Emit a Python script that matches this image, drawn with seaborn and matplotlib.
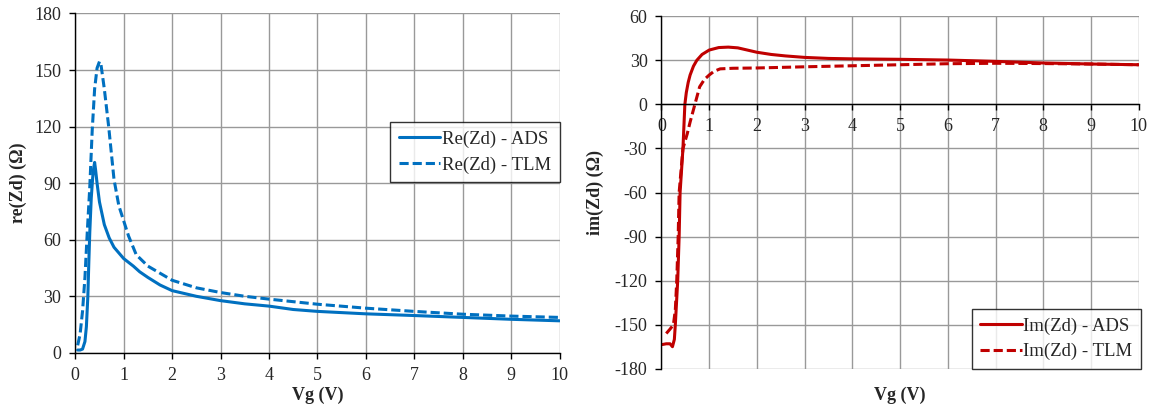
import numpy as np
import pandas as pd
import seaborn as sns
import matplotlib
matplotlib.use("Agg")
import matplotlib.pyplot as plt

# ── Données ─────────────────────────────────────────────────────
re_ads_x = [0.05, 0.1, 0.15, 0.2, 0.23, 0.26, 0.28, 0.3, 0.33, 0.36, 0.38, 0.4,
            0.42, 0.45, 0.5, 0.6, 0.7, 0.8, 0.9, 1.0, 1.2, 1.33, 1.5, 1.75, 2.0,
            2.5, 3.0, 3.5, 4.0, 4.5, 5, 6, 7, 8, 9, 10]
re_ads_y = [1.5, 1.5, 2, 6, 14, 30, 48, 64, 82, 93, 98, 101,
            97, 90, 80, 68, 61, 56, 53, 50, 46, 43, 40, 36, 33,
            30, 27.7, 26, 24.8, 23, 22, 20.7, 19.8, 18.8, 17.8, 17]

re_tlm_x = [0.05, 0.1, 0.15, 0.2, 0.25, 0.3, 0.35, 0.4, 0.45, 0.5, 0.53, 0.6,
            0.69, 0.8, 0.9, 1.0, 1.1, 1.26, 1.5, 2.0, 2.5, 3.0, 3.5, 4.0,
            5, 6, 7, 8, 9, 10]
re_tlm_y = [4, 10, 22, 40, 65, 88, 118, 140, 151, 154.5, 153, 140,
            120, 92, 78, 70, 62, 52, 46, 38.5, 34.5, 32, 30, 28.5,
            25.8, 23.7, 22, 20.5, 19.5, 18.8]

im_ads_x = [0.02, 0.1, 0.18, 0.23, 0.27, 0.29, 0.34, 0.37, 0.39, 0.42, 0.45,
            0.47, 0.49, 0.52, 0.56, 0.6, 0.67, 0.74, 0.85, 1.0, 1.2, 1.4, 1.6,
            1.8, 2.0, 2.3, 2.6, 3, 3.5, 4, 5, 6, 7, 8, 9, 10]
im_ads_y = [-163.5, -163, -163, -165, -160, -150, -120, -90, -60, -45, -30,
            -15, 0, 8, 15, 20, 26, 30, 34, 37, 38.7, 39, 38.5,
            37, 35.5, 34, 33, 32, 31.3, 31, 30.7, 30.2, 29.3, 28.2, 27.5, 27]

im_tlm_x = [0.1, 0.18, 0.25, 0.29, 0.32, 0.35, 0.37, 0.41, 0.45, 0.54, 0.6,
            0.7, 0.8, 0.9, 1.0, 1.1, 1.23, 1.5, 2, 3, 4, 5, 6, 7, 8, 9, 10]
im_tlm_y = [-156, -153, -150, -140, -120, -90, -60, -45, -30, -20, -12,
            0, 12, 17, 20, 22.5, 24.2, 24.6, 24.8, 25.6, 26.3, 27, 27.7,
            28, 27.8, 27.5, 27]

# ── Style ───────────────────────────────────────────────────────
BLUE = "#0070C0"
RED  = "#C00000"
GRID = "#999999"

sns.set_style("white")
plt.rcParams["font.family"] = ["Liberation Serif", "DejaVu Serif"]
plt.rcParams["axes.unicode_minus"] = False

TICK_KW = dict(labelsize=13, length=4, width=1, color="black", pad=6)
LAB_KW  = dict(fontsize=13, fontweight="bold")
LEG_KW  = dict(fontsize=13.5, frameon=True, fancybox=False, edgecolor="black",
               handlelength=2.2, handletextpad=0.1, borderpad=0.45,
               labelspacing=0.45, borderaxespad=0)
DASH = (0, (3, 1.3))

fig = plt.figure(figsize=(11.49, 4.07), dpi=100)
ax1 = fig.add_axes([0.0655, 0.133, 0.4215, 0.834])
ax2 = fig.add_axes([0.5757, 0.094, 0.4153, 0.866])

# ── Graphe gauche : partie réelle ───────────────────────────────
sns.lineplot(x=re_ads_x, y=re_ads_y, ax=ax1, color=BLUE, lw=2.2,
             label="Re(Zd) - ADS")
sns.lineplot(x=re_tlm_x, y=re_tlm_y, ax=ax1, color=BLUE, lw=2.2,
             linestyle=DASH, label="Re(Zd) - TLM")
ax1.set_xlim(0, 10)
ax1.set_ylim(0, 180)
ax1.set_xticks(range(0, 11))
ax1.set_yticks(range(0, 181, 30))
ax1.set_xlabel("Vg (V)", **LAB_KW)
ax1.xaxis.set_label_coords(0.5, -0.1)
ax1.set_ylabel("re(Zd) (Ω)", **LAB_KW)
ax1.yaxis.set_label_coords(-0.1, 0.5)
ax1.legend(loc="upper right", bbox_to_anchor=(1.0, 0.68), **LEG_KW)

# ── Graphe droit : partie imaginaire ────────────────────────────
sns.lineplot(x=im_ads_x, y=im_ads_y, ax=ax2, color=RED, lw=2.2,
             label="Im(Zd) - ADS")
sns.lineplot(x=im_tlm_x, y=im_tlm_y, ax=ax2, color=RED, lw=2.2,
             linestyle=DASH, label="Im(Zd) - TLM")
ax2.set_xlim(0, 10)
ax2.set_ylim(-180, 60)
ax2.set_xticks(range(0, 11))
ax2.set_yticks(range(-180, 61, 30))
ax2.spines["bottom"].set_position(("data", 0))
ax2.set_xlabel("Vg (V)", **LAB_KW)
ax2.xaxis.set_label_coords(0.5, -0.05)
ax2.set_ylabel("im(Zd) (Ω)", **LAB_KW)
ax2.yaxis.set_label_coords(-0.12, 0.5)
ax2.legend(loc="lower right", bbox_to_anchor=(1.005, 0.0), **LEG_KW)

for ax in (ax1, ax2):
    ax.grid(True, color=GRID, lw=1)
    ax.set_axisbelow(True)
    for s in ("top", "right"):
        ax.spines[s].set_visible(False)
    for s in ("left", "bottom"):
        ax.spines[s].set_color("black")
        ax.spines[s].set_linewidth(1)
    ax.tick_params(axis="both", direction="out", bottom=True, left=True, **TICK_KW)
    ax.get_legend().get_frame().set_linewidth(1)

fig.savefig("out.png", dpi=100)
